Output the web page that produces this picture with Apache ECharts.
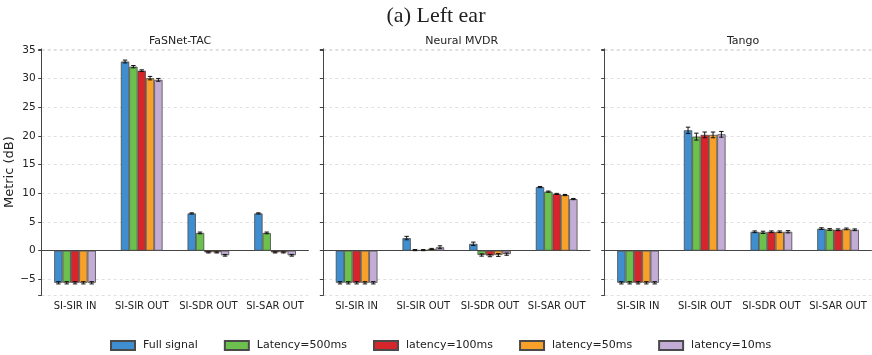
<!DOCTYPE html>
<html>
<head>
<meta charset="utf-8">
<script src="https://cdn.jsdelivr.net/npm/echarts@6/dist/echarts.min.js"></script>
<style>html,body{margin:0;padding:0;background:#fff}#c{width:872px;height:355px}</style>
</head>
<body>
<div id="c"></div>
<script>
// ---- data ----
const categories = ['SI-SIR IN', 'SI-SIR OUT', 'SI-SDR OUT', 'SI-SAR OUT'];
const methods = ['FaSNet-TAC', 'Neural MVDR', 'Tango'];
const conditions = ['Full signal', 'Latency=500ms', 'latency=100ms', 'latency=50ms', 'latency=10ms'];
const yTicks = [-5, 0, 5, 10, 15, 20, 25, 30, 35];

// means per condition (rows) over categories (columns)
const fasnetMeans = [
  [-5.6, 33.0, 6.5, 6.5],
  [-5.6, 32.1, 3.1, 3.1],
  [-5.6, 31.4, -0.3, -0.3],
  [-5.6, 30.1, -0.3, -0.3],
  [-5.6, 29.8, -0.8, -0.8]
];
const fasnetErr = [
  [0.2, 0.25, 0.1, 0.1],
  [0.2, 0.2, 0.15, 0.15],
  [0.2, 0.15, 0.1, 0.1],
  [0.2, 0.3, 0.1, 0.1],
  [0.2, 0.25, 0.15, 0.15]
];
const mvdrMeans = [
  [-5.6, 2.2, 1.2, 11.1],
  [-5.6, 0.1, -0.75, 10.3],
  [-5.6, 0.1, -0.85, 9.9],
  [-5.6, 0.3, -0.75, 9.7],
  [-5.6, 0.6, -0.6, 9.0]
];
const mvdrErr = [
  [0.2, 0.3, 0.3, 0.1],
  [0.2, 0.1, 0.2, 0.1],
  [0.2, 0.1, 0.2, 0.1],
  [0.2, 0.1, 0.25, 0.1],
  [0.2, 0.25, 0.2, 0.1]
];
const tangoMeans = [
  [-5.6, 21.0, 3.3, 3.85],
  [-5.6, 19.9, 3.2, 3.7],
  [-5.6, 20.2, 3.3, 3.65],
  [-5.6, 20.2, 3.3, 3.8],
  [-5.6, 20.3, 3.3, 3.65]
];
const tangoErr = [
  [0.2, 0.55, 0.15, 0.15],
  [0.2, 0.6, 0.2, 0.15],
  [0.2, 0.5, 0.15, 0.15],
  [0.2, 0.5, 0.15, 0.15],
  [0.2, 0.5, 0.2, 0.15]
];

// ---- style ----
const colors = ['#3f8fd0', '#6cc04e', '#d6262b', '#f7a12a', '#c3acd6'];
const font = 'DejaVu Sans';
const groupFrac = 0.625;
const gridLefts = [41.7, 323.3, 604.7];
const gridW = 266.7;

const allMeans = [fasnetMeans, mvdrMeans, tangoMeans];
const allErr = [fasnetErr, mvdrErr, tangoErr];

const grids = [], xAxes = [], yAxes = [], series = [], titles = [];
titles.push({
  text: '(a) Left ear', left: 'center', top: 0,
  textStyle: { fontFamily: 'Liberation Serif', fontSize: 22, fontWeight: 'normal', color: '#222' }
});

methods.forEach((m, p) => {
  grids.push({ left: gridLefts[p], top: 48.9, width: gridW, height: 246.5 });
  titles.push({
    text: m, left: gridLefts[p] + gridW / 2, top: 31, textAlign: 'center',
    textStyle: { fontFamily: font, fontSize: 11, fontWeight: 'normal', color: '#222' }
  });
  xAxes.push({
    type: 'category', gridIndex: p, data: categories,
    axisLine: { lineStyle: { color: '#444', width: 1 } },
    axisTick: { alignWithLabel: true, length: 3.5, lineStyle: { color: '#444' } },
    axisLabel: { interval: 0, fontFamily: font, fontSize: 10, color: '#222', margin: 6 },
    splitLine: { show: false }
  });
  yAxes.push({
    type: 'value', gridIndex: p, min: -7.8, max: 35.2, minInterval: 5, maxInterval: 5,
    name: p === 0 ? 'Metric (dB)' : '', nameLocation: 'middle', nameGap: 24,
    nameTextStyle: { fontFamily: font, fontSize: 13, color: '#222' },
    axisLine: { show: true, lineStyle: { color: '#444', width: 1 } },
    axisTick: { show: true, length: 3.5, lineStyle: { color: '#444' } },
    axisLabel: {
      show: p === 0, fontFamily: font, fontSize: 10.5, color: '#222', margin: 6,
      formatter: v => (yTicks.indexOf(v) >= 0 ? String(v).replace('-', '\u2212') : '')
    },
    splitLine: { show: true, lineStyle: { color: '#d8d8d8', type: [3, 3], width: 0.8 } }
  });
  conditions.forEach((c, s) => {
    series.push({
      type: 'bar', name: c, xAxisIndex: p, yAxisIndex: p,
      data: allMeans[p][s],
      barGap: '0%', barCategoryGap: ((1 - groupFrac) * 100) + '%',
      itemStyle: { color: colors[s], borderColor: '#4a4a4a', borderWidth: 0.8 },
      emphasis: { disabled: true }
    });
  });
  const errData = [];
  conditions.forEach((c, s) => {
    categories.forEach((cat, k) => {
      errData.push([k, s, allMeans[p][s][k], allErr[p][s][k]]);
    });
  });
  series.push({
    type: 'custom', xAxisIndex: p, yAxisIndex: p, z: 10,
    encode: { x: 0, y: 2 },
    data: errData,
    renderItem: (params, api) => {
      const k = api.value(0), s = api.value(1), v = api.value(2), e = api.value(3);
      const band = api.size([1, 0])[0];
      const bw = band * groupFrac / conditions.length;
      const c = api.coord([k, v]);
      const x = c[0] + (s - (conditions.length - 1) / 2) * bw;
      const yHi = api.coord([k, v + e])[1];
      const yLo = api.coord([k, v - e])[1];
      const cap = 2.2;
      const st = { stroke: '#111', lineWidth: 1 };
      return {
        type: 'group', children: [
          { type: 'line', shape: { x1: x, y1: yHi, x2: x, y2: yLo }, style: st },
          { type: 'line', shape: { x1: x - cap, y1: yHi, x2: x + cap, y2: yHi }, style: st },
          { type: 'line', shape: { x1: x - cap, y1: yLo, x2: x + cap, y2: yLo }, style: st }
        ]
      };
    }
  });
});

const chart = echarts.init(document.getElementById('c'), null, { renderer: 'canvas' });
chart.setOption({
  animation: false,
  backgroundColor: '#fff',
  title: titles,
  legend: {
    data: conditions, left: 110, top: 340, padding: 0,
    itemWidth: 24, itemHeight: 9, itemGap: 26,
    icon: 'rect',
    textStyle: { fontFamily: font, fontSize: 11, color: '#222', padding: [0, 0, 0, 3] }
  },
  grid: grids, xAxis: xAxes, yAxis: yAxes, series: series
});
</script>
</body>
</html>
